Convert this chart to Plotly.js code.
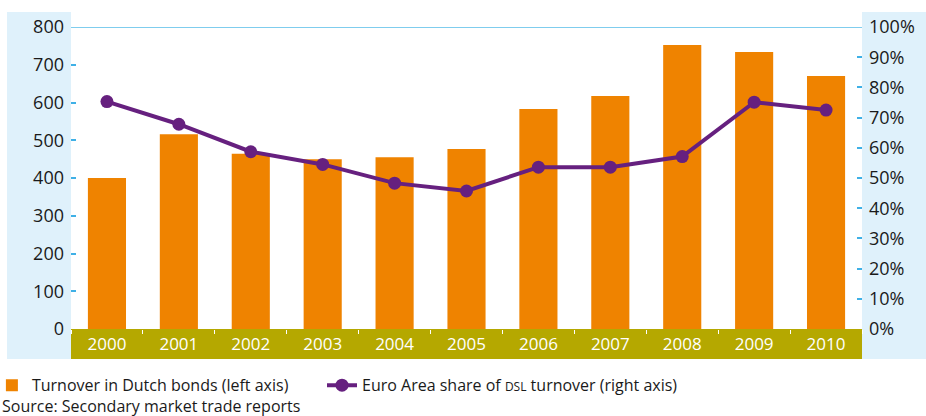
<!DOCTYPE html>
<html>
<head>
<meta charset="utf-8">
<script src="https://cdn.plot.ly/plotly-3.0.1.min.js"></script>
<style>
html,body{margin:0;padding:0;background:#fff;}
#chart{width:926px;height:416px;}
</style>
</head>
<body>
<div id="chart"></div>
<script>
const years = ['2000','2001','2002','2003','2004','2005','2006','2007','2008','2009','2010'];
const turnover = [400, 516, 464, 450, 455, 477, 583, 617, 752, 734, 670];
const euroShare = [75.3, 67.8, 58.7, 54.5, 48.3, 45.7, 53.6, 53.6, 57.1, 75.1, 72.5];
const leftTicks = [0, 100, 200, 300, 400, 500, 600, 700, 800];
const rightTicks = [0, 10, 20, 30, 40, 50, 60, 70, 80, 90, 100];

const FONT = 'Open Sans, sans-serif';
const ORANGE = '#ef8300';
const PURPLE = '#66207f';
const OLIVE = '#b5a800';
const PANEL = '#dff1fb';
const TICKBLUE = '#3fb0e6';

const traces = [
  {
    type: 'bar',
    x: years,
    y: turnover,
    name: 'Turnover in Dutch bonds (left axis)',
    marker: {color: ORANGE},
    yaxis: 'y',
    legend: 'legend'
  },
  {
    type: 'scatter',
    mode: 'lines+markers',
    x: years,
    y: euroShare,
    name: 'Euro Area share of <span style="font-size:12px">DSL</span> turnover (right axis)',
    line: {color: PURPLE, width: 4},
    marker: {color: PURPLE, size: 13},
    yaxis: 'y2',
    legend: 'legend2'
  }
];

const legendCommon = {
  orientation: 'h',
  xanchor: 'left',
  yanchor: 'top',
  y: -0.13,
  font: {family: FONT, size: 16, color: '#1a1a1a'},
  bgcolor: 'rgba(0,0,0,0)'
};

const layout = {
  width: 926,
  height: 416,
  margin: {l: 71, r: 64, t: 27, b: 87, autoexpand: false},
  paper_bgcolor: '#ffffff',
  plot_bgcolor: 'rgba(0,0,0,0)',
  font: {family: FONT, color: '#1a1a1a', size: 16},
  bargap: 0.47,
  showlegend: true,
  legend: Object.assign({}, legendCommon, {x: -0.1}),
  legend2: Object.assign({}, legendCommon, {x: (322 - 71) / 791}),
  xaxis: {
    type: 'category',
    range: [-0.5, years.length - 0.5],
    automargin: false,
    showgrid: false,
    zeroline: false,
    showline: false,
    ticks: 'outside',
    tickson: 'boundaries',
    ticklen: 4,
    tickwidth: 1,
    tickcolor: '#ffffff',
    tickfont: {family: FONT, size: 17, color: '#ffffff'},
    ticklabelstandoff: 3,
    fixedrange: true
  },
  yaxis: {
    range: [0, 800],
    automargin: false,
    tickvals: leftTicks,
    ticktext: leftTicks.map(String),
    showgrid: false,
    zeroline: false,
    showline: false,
    ticks: 'inside',
    ticklen: 5,
    tickwidth: 2,
    tickcolor: TICKBLUE,
    tickfont: {family: FONT, size: 18, color: '#1a1a1a'},
    ticklabelstandoff: 6,
    fixedrange: true
  },
  yaxis2: {
    range: [0, 100],
    automargin: false,
    overlaying: 'y',
    side: 'right',
    tickvals: rightTicks,
    ticktext: rightTicks.map(v => v + '%'),
    showgrid: false,
    zeroline: false,
    showline: false,
    ticks: 'inside',
    ticklen: 5,
    tickwidth: 2,
    tickcolor: TICKBLUE,
    tickfont: {family: FONT, size: 18, color: '#1a1a1a'},
    ticklabelstandoff: 6,
    fixedrange: true
  },
  shapes: [
    {type: 'rect', xref: 'paper', yref: 'paper', x0: -64/791, x1: 0, y0: -30/302, y1: 1 + 15/302,
     fillcolor: PANEL, line: {width: 0}, layer: 'below'},
    {type: 'rect', xref: 'paper', yref: 'paper', x0: 1, x1: 1 + 64/791, y0: -30/302, y1: 1 + 15/302,
     fillcolor: PANEL, line: {width: 0}, layer: 'below'},
    {type: 'rect', xref: 'paper', yref: 'paper', x0: 0, x1: 1, y0: -30/302, y1: 0,
     fillcolor: OLIVE, line: {width: 0}, layer: 'below'},
    {type: 'line', xref: 'paper', yref: 'y', x0: 0, x1: 1, y0: 800, y1: 800,
     line: {color: '#7fcdee', width: 2}, layer: 'below'}
  ],
  annotations: [
    {text: 'Source: Secondary market trade reports', xref: 'paper', yref: 'paper',
     x: -71/791, y: -77/302, xanchor: 'left', yanchor: 'middle', showarrow: false,
     font: {family: FONT, size: 16, color: '#1a1a1a'}}
  ]
};

Plotly.newPlot('chart', traces, layout, {displayModeBar: false, staticPlot: true});
</script>
</body>
</html>
